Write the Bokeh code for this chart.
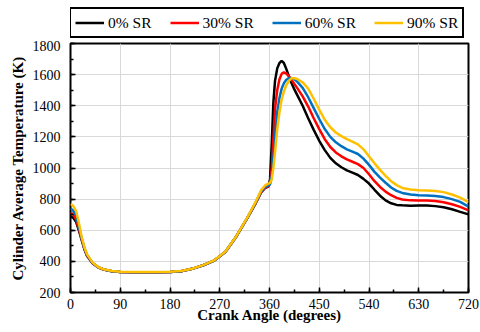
from bokeh.plotting import figure
from bokeh.models import Legend, LegendItem, SingleIntervalTicker, Range1d
from bokeh.layouts import column
from bokeh.embed import file_html
from bokeh.resources import INLINE

angle = [0, 5, 10, 15, 20, 25, 30, 40, 50, 60, 75, 90, 120, 150, 180, 200, 220, 240, 260, 280,
         300, 320, 335, 345, 352, 358, 361, 364, 367, 370, 374, 378, 382, 386, 390, 395,
         400, 405, 410, 420, 430, 440, 450, 460, 470, 480, 490, 500, 510, 520, 530, 540,
         550, 560, 570, 580, 590, 600, 615, 630, 645, 660, 675, 690, 705, 720]

sr0 = [690, 680, 655, 600, 540, 480, 435, 388, 362, 348, 337, 332, 330, 330, 332, 337, 352, 375, 405, 460,
       560, 680, 775, 845, 872, 880, 930, 1150, 1420, 1560, 1640, 1675, 1688, 1675, 1640, 1590,
       1545, 1505, 1470, 1400, 1320, 1245, 1175, 1115, 1065, 1030, 1005, 985, 970, 955, 930, 900,
       860, 822, 792, 773, 763, 760, 758, 759, 759, 755, 748, 735, 718, 702]

sr30 = [715, 700, 670, 610, 545, 483, 437, 388, 362, 348, 337, 332, 330, 330, 332, 337, 352, 375, 405, 460,
        560, 680, 775, 845, 872, 882, 905, 990, 1190, 1380, 1500, 1570, 1605, 1615, 1608, 1590,
        1565, 1540, 1515, 1460, 1395, 1320, 1250, 1185, 1135, 1100, 1075, 1055, 1040, 1025, 1000, 960,
        915, 878, 848, 825, 808, 798, 792, 791, 791, 788, 780, 767, 750, 728]

sr60 = [740, 725, 695, 625, 550, 487, 440, 390, 363, 348, 337, 332, 330, 330, 332, 337, 352, 375, 405, 460,
        560, 680, 778, 850, 878, 888, 895, 945, 1060, 1210, 1360, 1450, 1510, 1545, 1565, 1578,
        1578, 1570, 1555, 1515, 1455, 1385, 1315, 1250, 1200, 1165, 1140, 1120, 1105, 1090, 1060, 1020,
        975, 938, 905, 875, 853, 840, 830, 825, 823, 820, 813, 800, 782, 752]

sr90 = [770, 755, 725, 650, 560, 492, 445, 392, 364, 349, 338, 333, 331, 331, 333, 338, 353, 376, 407, 462,
        562, 683, 782, 858, 888, 900, 905, 925, 1000, 1100, 1250, 1360, 1440, 1490, 1530, 1560,
        1577, 1577, 1572, 1550, 1510, 1445, 1375, 1310, 1262, 1228, 1205, 1185, 1170, 1152, 1120, 1075,
        1030, 988, 950, 915, 890, 872, 862, 857, 855, 852, 845, 830, 810, 780]

series_names = ["0% SR", "30% SR", "60% SR", "90% SR"]
series_values = [sr0, sr30, sr60, sr90]
colors = ["#000000", "#ff0000", "#0070c0", "#ffc000"]

FONT = "'Liberation Serif', 'Times New Roman', serif"

# ---- main chart ----
p = figure(width=480, height=292, output_backend="svg", toolbar_location=None,
           x_range=Range1d(0, 720), y_range=Range1d(200, 1800),
           min_border_left=70, min_border_right=12, min_border_bottom=40, min_border_top=3)

p.outline_line_color = "black"
p.outline_line_width = 2
p.background_fill_color = "white"
p.border_fill_color = "white"

p.xgrid.grid_line_color = "#d9d9d9"
p.ygrid.grid_line_color = "#d9d9d9"

p.xaxis.ticker = SingleIntervalTicker(interval=90, num_minor_ticks=2)
p.yaxis.ticker = SingleIntervalTicker(interval=200, num_minor_ticks=2)

for ax in (p.xaxis[0], p.yaxis[0]):
    ax.axis_line_color = None
    ax.major_tick_in = 5
    ax.major_tick_out = 0
    ax.minor_tick_in = 3
    ax.minor_tick_out = 0
    ax.major_tick_line_color = "black"
    ax.minor_tick_line_color = "black"
    ax.major_tick_line_width = 1.5
    ax.minor_tick_line_width = 1.5
    ax.major_label_text_font = FONT
    ax.major_label_text_font_size = "14px"
    ax.major_label_text_color = "black"
    ax.axis_label_text_font = FONT
    ax.axis_label_text_font_style = "bold"
    ax.axis_label_text_font_size = "15px"
    ax.axis_label_text_color = "black"

p.xaxis.axis_label = "Crank Angle (degrees)"
p.yaxis.axis_label = "Cylinder Average Temperature (K)"
p.xaxis.major_label_standoff = 6
p.xaxis.axis_label_standoff = -5
p.yaxis.major_label_standoff = 10
p.yaxis.axis_label_standoff = 4

for vals, c in zip(series_values, colors):
    p.line(angle, vals, line_color=c, line_width=2.5)

# ---- legend strip (same series, drawn off-range so only the legend shows) ----
lg = figure(width=480, height=40, output_backend="svg", toolbar_location=None,
            x_range=Range1d(0, 720), y_range=Range1d(-2, -1),
            x_axis_type=None, y_axis_type=None,
            min_border_left=0, min_border_right=0, min_border_top=0, min_border_bottom=0)
lg.outline_line_color = None
lg.xgrid.visible = False
lg.ygrid.visible = False
lg.background_fill_color = "white"
lg.border_fill_color = "white"

items = []
for name, vals, c in zip(series_names, series_values, colors):
    r = lg.line(angle, vals, line_color=c, line_width=2.5)
    items.append(LegendItem(label=name, renderers=[r]))

legend = Legend(items=items, orientation="horizontal", location=(-1, 2),
                label_text_font=FONT, label_text_font_size="15.5px", label_text_color="black",
                border_line_color="black", border_line_width=2, border_line_alpha=1.0,
                background_fill_color="white", background_fill_alpha=1.0,
                glyph_width=29, glyph_height=19, label_height=19, label_standoff=4,
                spacing=18, padding=4, margin=0)
lg.add_layout(legend, "center")

layout = column(lg, p, spacing=0)
open("out.html", "w").write(file_html(layout, INLINE))
